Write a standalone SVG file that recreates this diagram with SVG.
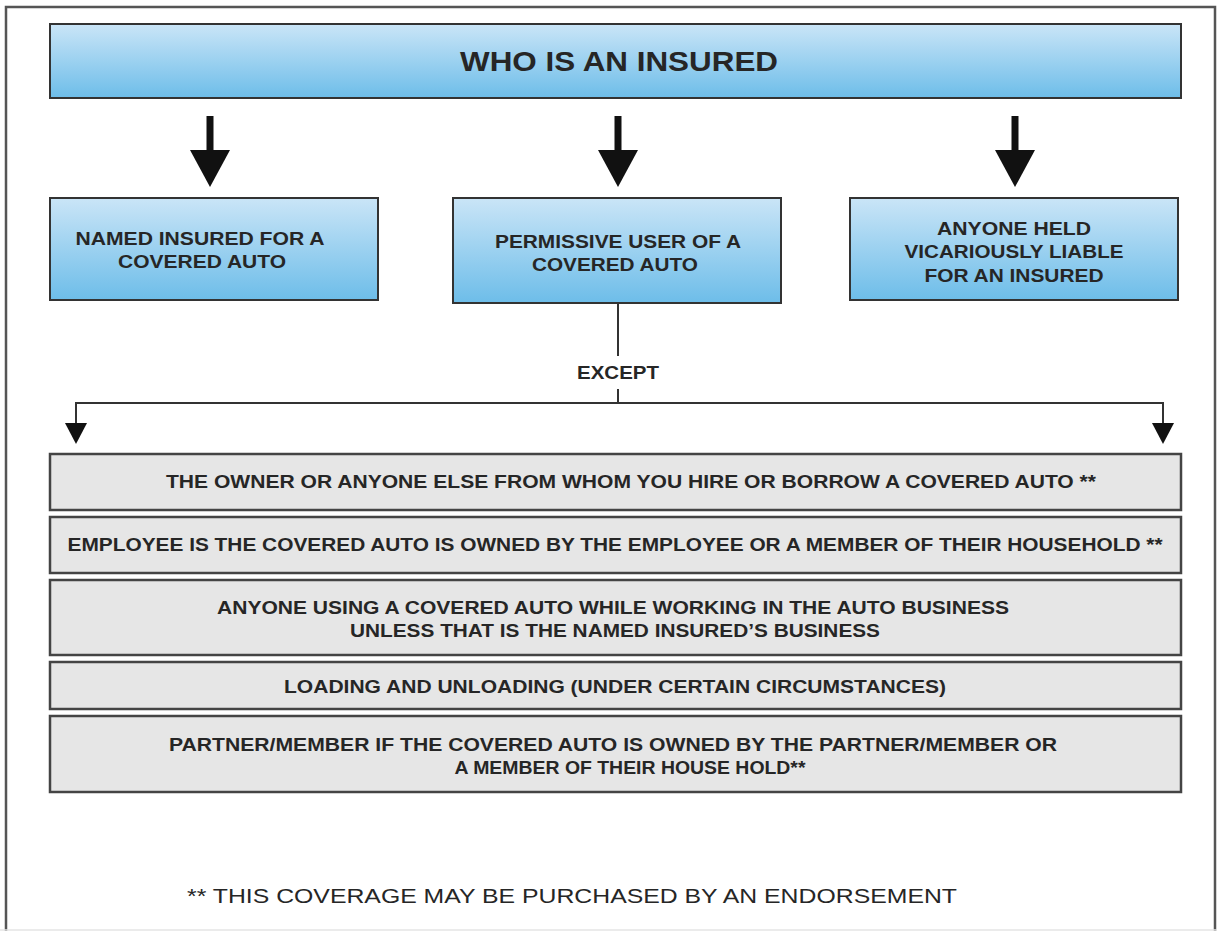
<svg xmlns="http://www.w3.org/2000/svg" width="1217" height="931" viewBox="0 0 1217 931">
<style>
.blue{fill:url(#bg);stroke:#333;stroke-width:2}
.gray{fill:#e6e6e6;stroke:#444;stroke-width:2.5}
.t{font-family:"Liberation Sans",Arial,sans-serif;font-weight:bold;fill:#262626;text-anchor:middle;font-size:18px}
.title{font-size:28px}
.foot{font-family:"Liberation Sans",Arial,sans-serif;font-weight:normal;fill:#262626;text-anchor:middle;font-size:21px}
.big{stroke:#111;stroke-width:7;fill:none}
.thin{stroke:#333;stroke-width:2;fill:none}
</style>
<defs>
<linearGradient id="bg" x1="0" y1="0" x2="0" y2="1">
<stop offset="0" stop-color="#cae5f7"/>
<stop offset="1" stop-color="#6dbde9"/>
</linearGradient>
<marker id="bigHead" viewBox="0 0 37 40" refX="10" refY="20" markerWidth="37" markerHeight="40" markerUnits="userSpaceOnUse" orient="auto">
<path d="M0,0 L37,20 L0,40 z" fill="#111"/>
</marker>
<marker id="smallHead" viewBox="0 0 21 22" refX="7" refY="11" markerWidth="21" markerHeight="22" markerUnits="userSpaceOnUse" orient="auto">
<path d="M0,0 L21,11 L0,22 z" fill="#111"/>
</marker>
</defs>
<rect x="0" y="0" width="1217" height="931" fill="#fff"/>
<path d="M6,940 V7 H1215 V940" fill="none" stroke="#555" stroke-width="2.5"/>
<line x1="0" y1="930" x2="1217" y2="930" stroke="#e4e4e4" stroke-width="1.5"/>

<g id="top">
<rect class="blue" x="50" y="24" width="1131" height="74"/>
<text class="t title" x="619" y="71" textLength="318" lengthAdjust="spacingAndGlyphs">WHO IS AN INSURED</text>
</g>
<g id="named">
<rect class="blue" x="50" y="198" width="328" height="102"/>
<text class="t" x="200" y="245" textLength="249" lengthAdjust="spacingAndGlyphs">NAMED INSURED FOR A</text>
<text class="t" x="202" y="268" textLength="168" lengthAdjust="spacingAndGlyphs">COVERED AUTO</text>
</g>
<g id="permissive">
<rect class="blue" x="453" y="198" width="328" height="105"/>
<text class="t" x="618" y="248" textLength="246" lengthAdjust="spacingAndGlyphs">PERMISSIVE USER OF A</text>
<text class="t" x="615" y="271" textLength="166" lengthAdjust="spacingAndGlyphs">COVERED AUTO</text>
</g>
<g id="vicarious">
<rect class="blue" x="850" y="198" width="328" height="102"/>
<text class="t" x="1014" y="235" textLength="154" lengthAdjust="spacingAndGlyphs">ANYONE HELD</text>
<text class="t" x="1014" y="258" textLength="219" lengthAdjust="spacingAndGlyphs">VICARIOUSLY LIABLE</text>
<text class="t" x="1014" y="282" textLength="179" lengthAdjust="spacingAndGlyphs">FOR AN INSURED</text>
</g>
<g id="except">
<text class="t" x="618" y="379" textLength="82" lengthAdjust="spacingAndGlyphs">EXCEPT</text>
</g>

<g id="connectors">
<line class="big" x1="210" y1="116" x2="210" y2="160" marker-end="url(#bigHead)"/>
<line class="big" x1="618" y1="116" x2="618" y2="160" marker-end="url(#bigHead)"/>
<line class="big" x1="1015" y1="116" x2="1015" y2="160" marker-end="url(#bigHead)"/>
<line class="thin" x1="618" y1="303" x2="618" y2="356"/>
<path class="thin" d="M618,389 V403 H76 V430" marker-end="url(#smallHead)"/>
<path class="thin" d="M618,403 H1163 V430" marker-end="url(#smallHead)"/>
</g>

<g id="row1">
<rect class="gray" x="50" y="454" width="1131" height="56"/>
<text class="t" x="631" y="488" textLength="930" lengthAdjust="spacingAndGlyphs">THE OWNER OR ANYONE ELSE FROM WHOM YOU HIRE OR BORROW A COVERED AUTO **</text>
</g>
<g id="row2">
<rect class="gray" x="50" y="517" width="1131" height="56"/>
<text class="t" x="615" y="551" textLength="1095" lengthAdjust="spacingAndGlyphs">EMPLOYEE IS THE COVERED AUTO IS OWNED BY THE EMPLOYEE OR A MEMBER OF THEIR HOUSEHOLD **</text>
</g>
<g id="row3">
<rect class="gray" x="50" y="580" width="1131" height="75"/>
<text class="t" x="613" y="614" textLength="792" lengthAdjust="spacingAndGlyphs">ANYONE USING A COVERED AUTO WHILE WORKING IN THE AUTO BUSINESS</text>
<text class="t" x="615" y="637" textLength="530" lengthAdjust="spacingAndGlyphs">UNLESS THAT IS THE NAMED INSURED’S BUSINESS</text>
</g>
<g id="row4">
<rect class="gray" x="50" y="662" width="1131" height="47"/>
<text class="t" x="615" y="693" textLength="662" lengthAdjust="spacingAndGlyphs">LOADING AND UNLOADING (UNDER CERTAIN CIRCUMSTANCES)</text>
</g>
<g id="row5">
<rect class="gray" x="50" y="716" width="1131" height="76"/>
<text class="t" x="613" y="751" textLength="888" lengthAdjust="spacingAndGlyphs">PARTNER/MEMBER IF THE COVERED AUTO IS OWNED BY THE PARTNER/MEMBER OR</text>
<text class="t" x="630" y="774" textLength="351" lengthAdjust="spacingAndGlyphs">A MEMBER OF THEIR HOUSE HOLD**</text>
</g>
<g id="footnote">
<text class="foot" x="572" y="903" textLength="770" lengthAdjust="spacingAndGlyphs">** THIS COVERAGE MAY BE PURCHASED BY AN ENDORSEMENT</text>
</g>
</svg>
